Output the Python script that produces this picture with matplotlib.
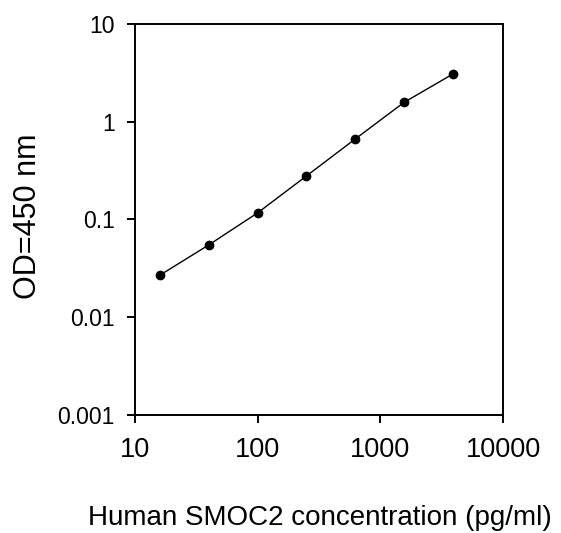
import matplotlib.pyplot as plt
from matplotlib.ticker import FixedLocator, NullLocator

plt.rcParams['font.family'] = ['Liberation Sans', 'DejaVu Sans']

conc = [16, 40, 100, 250, 625, 1562.5, 3906.25]
od = [0.027, 0.055, 0.117, 0.279, 0.667, 1.58, 3.08]

x_ticks = [10, 100, 1000, 10000]
x_labels = ['10', '100', '1000', '10000']
y_ticks = [0.001, 0.01, 0.1, 1, 10]
y_labels = ['0.001', '0.01', '0.1', '1', '10']

W, H = 561, 533
fig = plt.figure(figsize=(W / 100, H / 100), dpi=100)
ax = fig.add_axes([135 / W, 1 - 415 / H, (503 - 135) / W, (415 - 24) / H])

ax.plot(conc, od, color='black', linewidth=1, marker='o', markersize=6)

ax.set_xscale('log')
ax.set_yscale('log')
ax.set_xlim(10, 10000)
ax.set_ylim(0.001, 10)

ax.xaxis.set_major_locator(FixedLocator(x_ticks))
ax.xaxis.set_minor_locator(NullLocator())
ax.yaxis.set_major_locator(FixedLocator(y_ticks))
ax.yaxis.set_minor_locator(NullLocator())
ax.set_xticklabels(x_labels)
ax.set_yticklabels(y_labels)
ax.tick_params(direction='out', length=5.5, width=1.4)
ax.tick_params(axis='x', labelsize=19.5, pad=10)
ax.tick_params(axis='y', labelsize=16.5, pad=9)

for s in ax.spines.values():
    s.set_linewidth(1.4)

ax.set_xlabel('Human SMOC2 concentration (pg/ml)', fontsize=20)
ax.xaxis.set_label_coords(320 / W, 1 - 525 / H, transform=fig.transFigure)
ax.xaxis.label.set_va('baseline')

ax.set_ylabel('OD=450 nm', fontsize=22)
ax.yaxis.set_label_coords(28 / W, 1 - 216 / H, transform=fig.transFigure)
ax.yaxis.label.set_va('center')

fig.savefig('out.png', dpi=100)
